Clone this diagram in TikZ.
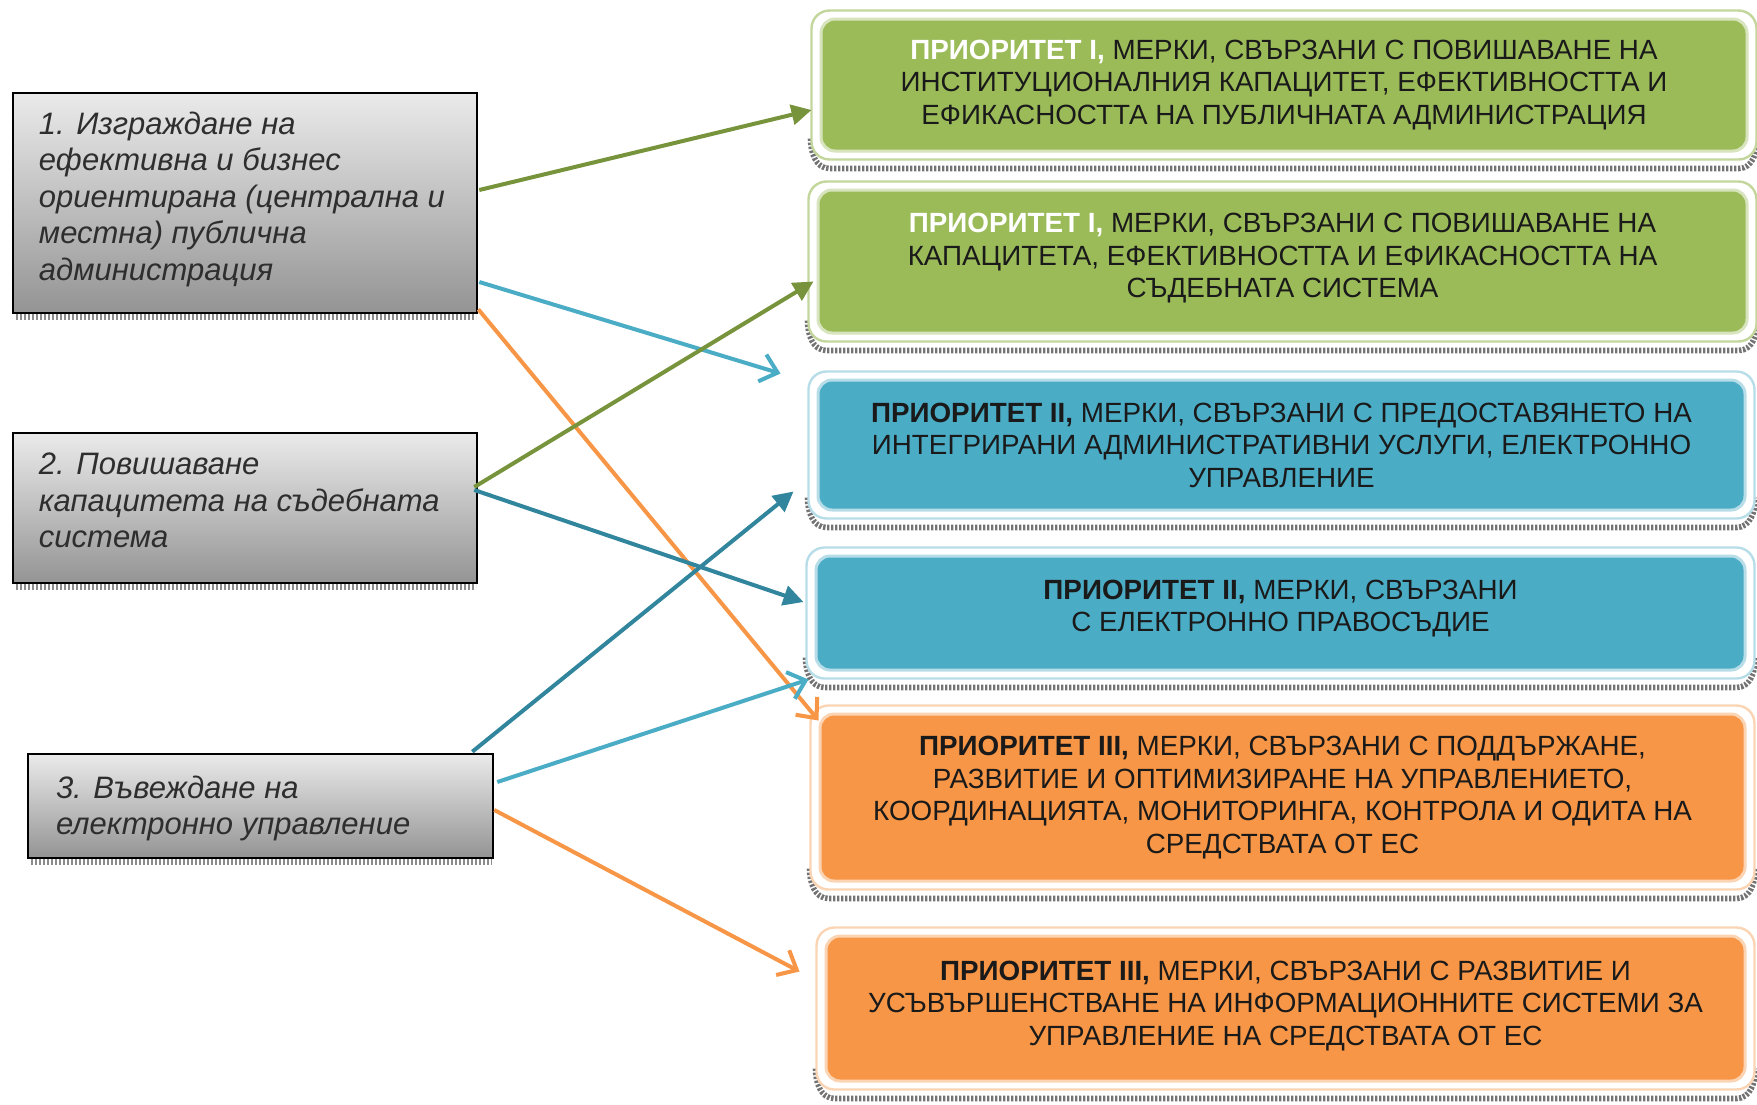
\documentclass[tikz,border=0pt]{standalone}
\usepackage{fontspec}
\setmainfont{Liberation Sans}
\usetikzlibrary{arrows.meta,calc,backgrounds}
\definecolor{gfill}{HTML}{9BBB59}
\definecolor{gline}{HTML}{D7E4BD}
\definecolor{gout}{HTML}{C3D69B}
\definecolor{bfill}{HTML}{4BACC6}
\definecolor{bline}{HTML}{B7DDE8}
\definecolor{ofill}{HTML}{F79646}
\definecolor{oline}{HTML}{FBD4B4}
\definecolor{agreen}{HTML}{77933C}
\definecolor{acyan}{HTML}{4BACC6}
\definecolor{ateal}{HTML}{31859C}
\definecolor{aorange}{HTML}{F79646}
\definecolor{txtdark}{HTML}{1A1A1A}
\definecolor{ltxt}{HTML}{2E2E2E}
\tikzset{
  rbox/.style={rounded corners=7pt, line width=1.5pt, inner sep=0pt, align=center,
    font=\fontsize{13.9}{16.25}\selectfont, text=txtdark},
  lbox/.style={draw=black, line width=1.3pt, top color=black!8, bottom color=black!42,
    inner sep=0pt, font=\itshape\fontsize{15.5}{18.2}\selectfont, text=ltxt},
  shadowstrip/.style={draw=black!55, line width=2.8pt, dash pattern=on 1.2pt off 0.8pt},
  lshadow/.style={draw=black!45, line width=2.6pt, dash pattern=on 1.2pt off 0.8pt},
  conn/.style={line width=2pt},
  filltip/.style={-{Triangle[length=10pt,width=10pt]}},
  opentip/.style={-{Straight Barb[length=8pt,width=14pt,line width=2pt]}}
}
\newcommand\boxdeco[2]{%
  \begin{pgfonlayer}{background}
  \draw[shadowstrip] ($(#1.south west)+(-9,-14)$) to[out=-90,in=180] ($(#1.south west)+(10,16)$)
     -- ($(#1.south east)+(-10,16)$) to[out=0,in=-90] ($(#1.south east)+(9,-14)$);
  \draw[fill=white, draw=#2, line width=1.2pt, rounded corners=9pt]
     ($(#1.north west)+(-8,-7)$) rectangle ($(#1.south east)+(8,7)$);
  \end{pgfonlayer}}
\newcommand\prio[2]{{\bfseries\color{#1}#2}}
\newcommand\lift[1]{\rule[-#1]{0pt}{1pt}}
\begin{document}
\begin{tikzpicture}[x=0.5pt,y=-0.5pt]
\useasboundingbox (0,0) rectangle (1757,1104);
% right boxes
\node[rbox, fill=gfill, draw=gline, minimum width=463pt, minimum height=66pt] (R1) at (1284,85)
 {\prio{white}{ПРИОРИТЕТ I,} МЕРКИ, СВЪРЗАНИ С ПОВИШАВАНЕ НА\\ИНСТИТУЦИОНАЛНИЯ КАПАЦИТЕТ, ЕФЕКТИВНОСТТА И\\ЕФИКАСНОСТТА НА ПУБЛИЧНАТА АДМИНИСТРАЦИЯ};
\node[rbox, fill=gfill, draw=gline, minimum width=464.5pt, minimum height=71.5pt] (R2) at (1282.5,261.5)
 {\prio{white}{ПРИОРИТЕТ I,} МЕРКИ, СВЪРЗАНИ С ПОВИШАВАНЕ НА\\КАПАЦИТЕТА, ЕФЕКТИВНОСТТА И ЕФИКАСНОСТТА НА\\СЪДЕБНАТА СИСТЕМА\lift{5.8pt}};
\node[rbox, fill=bfill, draw=bline, minimum width=463.5pt, minimum height=65pt] (R3) at (1281.5,445)
 {\prio{txtdark}{ПРИОРИТЕТ II,} МЕРКИ, СВЪРЗАНИ С ПРЕДОСТАВЯНЕТО НА\\ИНТЕГРИРАНИ АДМИНИСТРАТИВНИ УСЛУГИ, ЕЛЕКТРОННО\\УПРАВЛЕНИЕ};
\node[rbox, fill=bfill, draw=bline, minimum width=464.5pt, minimum height=57pt] (R4) at (1280.5,613)
 {\prio{txtdark}{ПРИОРИТЕТ II,} МЕРКИ, СВЪРЗАНИ\\С ЕЛЕКТРОННО ПРАВОСЪДИЕ\lift{7pt}};
\node[rbox, fill=ofill, draw=oline, minimum width=462.5pt, minimum height=83.5pt] (R5) at (1282.5,797.5)
 {\prio{txtdark}{ПРИОРИТЕТ III,} МЕРКИ, СВЪРЗАНИ С ПОДДЪРЖАНЕ,\\РАЗВИТИЕ И ОПТИМИЗИРАНЕ НА УПРАВЛЕНИЕТО,\\КООРДИНАЦИЯТА, МОНИТОРИНГА, КОНТРОЛА И ОДИТА НА\\СРЕДСТВАТА ОТ ЕС};
\node[rbox, fill=ofill, draw=oline, minimum width=459.5pt, minimum height=72.5pt] (R6) at (1285.5,1008.5)
 {\prio{txtdark}{ПРИОРИТЕТ III,} МЕРКИ, СВЪРЗАНИ С РАЗВИТИЕ И\\УСЪВЪРШЕНСТВАНЕ НА ИНФОРМАЦИОННИТЕ СИСТЕМИ ЗА\\УПРАВЛЕНИЕ НА СРЕДСТВАТА ОТ ЕС\lift{5.6pt}};
\boxdeco{R1}{gout}
\boxdeco{R2}{gout}
\boxdeco{R3}{bline}
\boxdeco{R4}{bline}
\boxdeco{R5}{oline}
\boxdeco{R6}{oline}
% left boxes
\draw[lshadow] (16,317) -- (476,317);
\draw[lshadow] (16,587) -- (476,587);
\draw[lshadow] (31,862) -- (492,862);
\node[lbox, minimum width=232pt, minimum height=110pt] (L1) at (245,203)
 {\parbox[c][110pt][t]{206pt}{\raggedright\vspace*{9.5pt}1. Изграждане на\\ефективна и бизнес\\ориентирана (централна и\\местна) публична\\администрация}};
\node[lbox, minimum width=232pt, minimum height=75pt] (L2) at (245,508)
 {\parbox[c][75pt][t]{206pt}{\raggedright\vspace*{10pt}2. Повишаване\\капацитета на съдебната\\система}};
\node[lbox, minimum width=232.5pt, minimum height=52pt] (L3) at (260.5,806)
 {\parbox[c][52pt][t]{204.5pt}{\raggedright\vspace*{11pt}3. Въвеждане на\\електронно управление}};
% connectors
\draw[conn, agreen, filltip] ($(L1.east)+(1,-13)$) -- ($(R1.west)+(-8,25)$);
\draw[conn, acyan, opentip] ($(L1.east)+(1,79)$) -- ($(R2.south west)+(-36,39)$);
\draw[conn, aorange, opentip] ($(L1.south east)+(0,-5)$) -- ($(R5.north west)+(0,8)$);
\draw[conn, agreen, filltip] ($(L2.east)+(-4,-21)$) -- ($(R2.west)+(-3,20)$);
\draw[conn, ateal, filltip] ($(L2.east)+(-4,-18)$) -- ($(R4.west)+(-11,-11)$);
\draw[conn, ateal, filltip] ($(L3.north east)+(-22,-1)$) -- ($(R3.south west)+(-23,-20)$);
\draw[conn, acyan, opentip] ($(L3.east)+(3,-24)$) -- ($(R4.south west)+(-6,8)$);
\draw[conn, aorange, opentip] ($(L3.east)+(0,4)$) -- ($(R6.west)+(-25,-37)$);
\end{tikzpicture}
\end{document}
